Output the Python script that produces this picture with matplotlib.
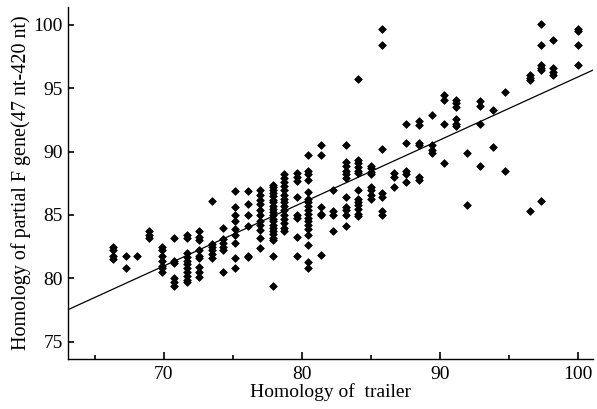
import matplotlib
matplotlib.use("Agg")
import matplotlib.pyplot as plt
import numpy as np

# trailer homology (%) for each column of points
trailer = [66.3, 67.25, 68.07, 68.93, 69.88, 70.75, 71.67, 72.56, 73.46, 74.3,
           75.14, 76.11, 76.96, 77.9, 78.73, 79.62, 80.46, 81.36, 82.27, 83.19,
           84.08, 84.98, 85.82, 86.67, 87.56, 88.5, 89.4, 90.29, 91.16, 91.98,
           92.9, 93.82, 94.71, 96.52, 97.32, 98.21, 100.0]

# partial F gene homology (%)
partial_f = [
    [82.5, 82.2, 81.8, 81.5],
    [81.8, 80.8],
    [81.8],
    [83.7, 83.4, 83.2],
    [82.5, 82.2, 81.8, 81.4, 81.0, 80.8, 80.5],
    [83.2, 81.4, 81.2, 80.0, 79.7, 79.4],
    [83.4, 83.2, 82.0, 81.7, 81.4, 81.1, 80.8, 80.5, 80.2, 79.9, 79.7],
    [83.7, 83.3, 83.0, 82.2, 81.8, 81.6, 80.9, 80.5, 80.1],
    [86.1, 82.7, 82.5, 82.2, 81.9, 81.6],
    [84.0, 83.1, 82.8, 82.5, 82.2, 80.5],
    [86.9, 85.6, 85.0, 84.5, 83.9, 83.4, 82.8, 81.6, 80.8],
    [86.9, 85.9, 85.0, 84.1, 81.8, 81.7],
    [87.0, 86.6, 86.2, 85.9, 85.4, 85.0, 84.5, 84.2, 83.8, 83.2, 82.4],
    [87.4, 87.2, 87.0, 86.7, 86.5, 86.2, 86.0, 85.7, 85.5, 85.2, 85.0, 84.7,
     84.5, 84.2, 84.0, 83.7, 83.5, 83.2, 83.0, 81.8, 79.4],
    [88.2, 87.9, 87.6, 87.3, 87.0, 86.6, 86.3, 86.0, 85.7, 85.4, 85.0, 84.7,
     84.4, 84.0, 83.7],
    [88.3, 88.0, 87.7, 86.4, 85.0, 84.8, 83.3, 81.8],
    [89.7, 88.5, 88.2, 87.8, 86.8, 86.3, 86.0, 85.7, 85.4, 85.1, 84.8, 84.5,
     84.2, 83.9, 83.4, 82.6, 81.3, 80.8],
    [90.5, 89.7, 85.6, 85.1, 85.0, 81.85],
    [87.0, 85.3, 85.0, 83.7],
    [90.5, 89.2, 88.9, 88.5, 88.2, 87.9, 86.4, 85.6, 85.4, 85.0, 84.1],
    [95.7, 89.3, 89.1, 88.8, 88.5, 88.3, 87.0, 86.3, 86.0, 85.8, 85.5, 85.1, 84.9],
    [88.9, 88.7, 88.4, 88.2, 87.2, 87.0, 86.6, 86.3],
    [99.7, 98.4, 90.2, 86.7, 86.4, 85.3, 85.0],
    [88.3, 88.0, 87.2],
    [92.2, 90.7, 88.5, 88.2, 87.6],
    [92.4, 92.1, 90.7, 90.5, 88.0, 87.8],
    [92.9, 90.5, 90.1, 89.9],
    [94.5, 94.1, 92.2, 89.1],
    [94.1, 93.8, 93.5, 92.6, 92.2, 92.0],
    [89.9, 85.8],
    [94.0, 93.6, 92.2, 88.9],
    [93.3, 90.4],
    [94.7, 88.5],
    [96.05, 95.8, 95.65, 85.3],
    [100.1, 98.4, 96.8, 96.6, 96.45, 86.1],
    [98.8, 96.6, 96.3, 96.05],
    [99.7, 99.5, 98.4, 96.8],
]

# regression line: y = slope * x + intercept
slope = 0.497
intercept = 46.19

xs = np.concatenate([[x] * len(ys) for x, ys in zip(trailer, partial_f)])
ys = np.concatenate(partial_f)

plt.rcParams['font.family'] = ['Liberation Serif', 'DejaVu Serif']

fig = plt.figure(figsize=(5.97, 4.09), dpi=100)
ax = fig.add_axes([0.1144, 0.1222, 0.9933 - 0.1144, 0.983 - 0.1222])

ax.scatter(xs, ys, marker='D', s=15, color='black', linewidths=0.6, zorder=3)

xlim = (63.07, 101.1)
fit_x = np.array(xlim)
ax.plot(fit_x, slope * fit_x + intercept, color='black', lw=0.9, zorder=2)

ax.set_xlim(*xlim)
ax.set_ylim(73.63, 101.42)
ax.set_xticks([70, 80, 90, 100])
ax.set_xticks([65, 75, 85, 95], minor=True)
ax.set_yticks([75, 80, 85, 90, 95, 100])

for s in ['top', 'right']:
    ax.spines[s].set_visible(False)
for s in ['left', 'bottom']:
    ax.spines[s].set_linewidth(1.0)

ax.tick_params(axis='x', which='major', direction='in', length=5, width=1.2,
               pad=5, labelsize=14)
ax.tick_params(axis='x', which='minor', direction='in', length=3, width=1.2)
ax.tick_params(axis='y', which='major', direction='in', length=4.5, width=1.2,
               pad=4, labelsize=14)

ax.set_xlabel('Homology of  trailer', fontsize=14, labelpad=0)
ax.set_ylabel('Homology of partial F gene(47 nt-420 nt)', fontsize=14.5, labelpad=2)

fig.savefig('out.png', dpi=100)
